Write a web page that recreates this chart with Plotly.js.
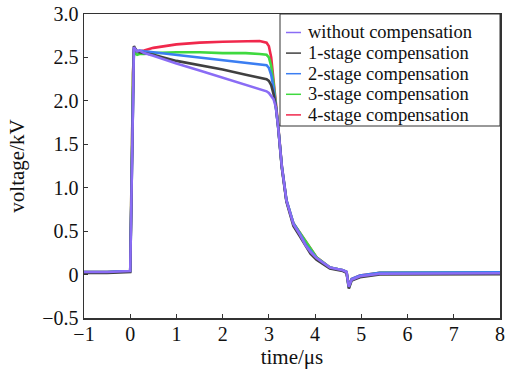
<!DOCTYPE html>
<html>
<head>
<meta charset="utf-8">
<script src="https://cdn.plot.ly/plotly-3.0.1.min.js"></script>
<style>html,body{margin:0;padding:0;background:#fff;}#chart{width:505px;height:371px;}</style>
</head>
<body>
<div id="chart"></div>
<script>
// time in microseconds (shared by all series)
const time = [-1, -0.5, 0, 0.02, 0.04, 0.06, 0.08, 0.1, 0.15, 0.2, 0.3, 0.5, 1.0, 1.5, 2.0, 2.5, 2.8, 2.95, 3.0, 3.05, 3.1, 3.15, 3.2, 3.28, 3.38, 3.53, 3.67, 3.8, 3.9, 4.03, 4.32, 4.6, 4.68, 4.71, 4.73, 4.79, 4.97, 5.4, 6, 7, 8];

const withoutComp = [0.03, 0.03, 0.04, 0.8, 1.7, 2.35, 2.62, 2.6, 2.57, 2.58, 2.55, 2.52, 2.43, 2.35, 2.27, 2.19, 2.14, 2.11, 2.09, 2.06, 2.02, 1.93, 1.70, 1.24, 0.85, 0.58, 0.46, 0.33, 0.26, 0.19, 0.08, 0.05, 0.03, -0.08, -0.14, -0.06, -0.02, 0.01, 0.01, 0.015, 0.015];
const stage1 = [0.02, 0.02, 0.03, 0.8, 1.7, 2.35, 2.63, 2.61, 2.57, 2.56, 2.55, 2.53, 2.46, 2.41, 2.36, 2.30, 2.27, 2.25, 2.23, 2.18, 2.08, 1.94, 1.70, 1.23, 0.84, 0.56, 0.44, 0.32, 0.24, 0.17, 0.07, 0.04, 0.02, -0.09, -0.16, -0.07, -0.03, 0.0, 0.0, 0.005, 0.005];
const stage2 = [0.03, 0.03, 0.04, 0.8, 1.7, 2.35, 2.6, 2.6, 2.57, 2.58, 2.57, 2.56, 2.53, 2.50, 2.47, 2.44, 2.42, 2.41, 2.38, 2.30, 2.15, 1.95, 1.71, 1.25, 0.86, 0.59, 0.47, 0.34, 0.27, 0.19, 0.08, 0.05, 0.03, -0.08, -0.14, -0.05, -0.01, 0.02, 0.02, 0.02, 0.025];
const stage3 = [0.03, 0.03, 0.04, 0.8, 1.7, 2.3, 2.55, 2.55, 2.53, 2.54, 2.54, 2.55, 2.56, 2.56, 2.55, 2.55, 2.54, 2.53, 2.50, 2.40, 2.20, 1.96, 1.71, 1.24, 0.85, 0.59, 0.48, 0.38, 0.30, 0.20, 0.08, 0.05, 0.03, -0.09, -0.15, -0.06, -0.02, 0.02, 0.02, 0.02, 0.025];
const stage4 = [0.03, 0.03, 0.04, 0.8, 1.7, 2.32, 2.58, 2.58, 2.56, 2.57, 2.58, 2.61, 2.65, 2.67, 2.68, 2.69, 2.69, 2.67, 2.63, 2.50, 2.25, 1.97, 1.72, 1.25, 0.85, 0.59, 0.48, 0.38, 0.29, 0.20, 0.08, 0.05, 0.03, -0.08, -0.13, -0.05, -0.01, 0.02, 0.02, 0.02, 0.02];

const seriesNames = ['without compensation', '1-stage compensation', '2-stage compensation', '3-stage compensation', '4-stage compensation'];
const seriesValues = [withoutComp, stage1, stage2, stage3, stage4];
const seriesColors = ['#8a6cf5', '#404040', '#3b7ef2', '#3fd93f', '#f0284c'];

const xTickVals = [-1, 0, 1, 2, 3, 4, 5, 6, 7, 8];
const xTickText = ['\u22121', '0', '1', '2', '3', '4', '5', '6', '7', '8'];
const yTickVals = [-0.5, 0, 0.5, 1.0, 1.5, 2.0, 2.5, 3.0];
const yTickText = ['\u22120.5', '0', '0.5', '1.0', '1.5', '2.0', '2.5', '3.0'];

const FONT = "'Liberation Serif', 'Times New Roman', serif";

// draw order: 4-stage first, "without" last (on top)
const traces = [];
for (let i = seriesNames.length - 1; i >= 0; i--) {
  traces.push({
    x: time, y: seriesValues[i], type: 'scatter', mode: 'lines',
    name: seriesNames[i], line: {color: seriesColors[i], width: 2.6}, showlegend: false
  });
}

// custom legend (real text)
const legRowsPx = [32.5, 53.1, 73.7, 94.3, 114.9];
const plotTop = 14, plotBottom = 318, plotLeft = 84, plotRight = 500;
const py = p => (plotBottom - p) / (plotBottom - plotTop);
const px = p => (p - plotLeft) / (plotRight - plotLeft);
const shapes = [{
  type: 'rect', xref: 'paper', yref: 'paper',
  x0: px(280), x1: px(500), y0: py(126), y1: py(14),
  line: {color: '#333', width: 1}, fillcolor: 'rgba(255,255,255,1)', layer: 'above'
}];
const annotations = [];
seriesNames.forEach((n, i) => {
  shapes.push({type: 'line', xref: 'paper', yref: 'paper', x0: px(286), x1: px(301),
    y0: py(legRowsPx[i]), y1: py(legRowsPx[i]), line: {color: seriesColors[i], width: 1.5}, layer: 'above'});
  annotations.push({xref: 'paper', yref: 'paper', x: px(306), y: py(legRowsPx[i]),
    xanchor: 'left', yanchor: 'middle', showarrow: false, text: n,
    font: {family: FONT, size: 18.5, color: '#111'}});
});

const layout = {
  width: 505, height: 371,
  margin: {l: 84, r: 5, t: 14, b: 53},
  paper_bgcolor: '#fff', plot_bgcolor: '#fff',
  font: {family: FONT, size: 20, color: '#111'},
  xaxis: {
    range: [-1, 8], tickvals: xTickVals, ticktext: xTickText,
    ticks: 'inside', ticklen: 4, tickcolor: '#333', tickwidth: 1,
    showline: true, linecolor: '#333', linewidth: 1.5, mirror: true,
    showgrid: false, zeroline: false, ticklabelstandoff: -3,
    tickfont: {family: FONT, size: 20, color: '#111'},
    title: {text: 'time/\u03bcs', font: {family: FONT, size: 21, color: '#111'}, standoff: 6}
  },
  yaxis: {
    range: [-0.5, 3.0], tickvals: yTickVals, ticktext: yTickText,
    ticks: 'inside', ticklen: 4, tickcolor: '#333', tickwidth: 1,
    showline: true, linecolor: '#333', linewidth: 1.5, mirror: true,
    showgrid: false, zeroline: false,
    tickfont: {family: FONT, size: 20, color: '#111'},
    title: {text: 'voltage/kV', font: {family: FONT, size: 21, color: '#111'}, standoff: 12}
  },
  shapes: shapes,
  annotations: annotations,
  showlegend: false
};

Plotly.newPlot('chart', traces, layout, {displayModeBar: false, staticPlot: true});
</script>
</body>
</html>
